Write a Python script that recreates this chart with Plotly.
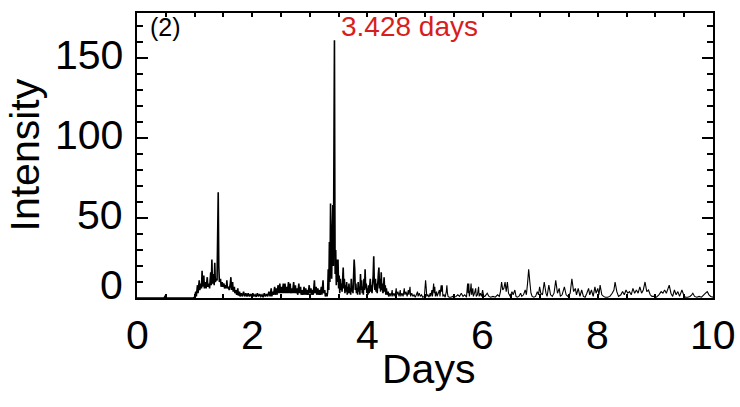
import plotly.graph_objects as go

# ---------------- data ----------------
period_quiet = [0.0, 0.47, 0.49, 0.51, 0.98]
power_quiet = [0, 0, 1.2, 0, 0]

period_a = [1.00, 1.02, 1.03, 1.05, 1.06, 1.08, 1.09, 1.11, 1.12, 1.13, 1.14, 1.16, 1.17, 1.19, 1.20,
            1.22, 1.23, 1.25, 1.26, 1.28, 1.29, 1.30, 1.31, 1.33, 1.34, 1.35, 1.36, 1.38, 1.39, 1.41,
            1.42, 1.43, 1.45, 1.46, 1.48, 1.49, 1.51, 1.52, 1.54, 1.55, 1.56, 1.57, 1.59, 1.60, 1.62,
            1.63, 1.64, 1.66, 1.67, 1.69, 1.70, 1.72, 1.73, 1.75, 1.76, 1.78, 1.79, 1.81, 1.83, 1.85,
            1.87, 1.89]
power_a = [0.5, 4, 1, 8, 3, 11, 5, 9, 6, 17, 7, 14, 6, 10, 6,
           13, 7, 9, 6, 16, 8, 24, 9, 15, 8, 22, 10, 12, 11, 66,
           20, 10, 12, 7, 10, 7, 9, 6, 8, 6, 11, 6, 7, 5, 9,
           13, 5, 10, 4, 7, 3, 5, 2, 6, 1.5, 4, 1, 3, 1, 4,
           1, 3]

period_b = [1.91, 1.93, 1.95, 1.97, 1.99, 2.01, 2.03, 2.05, 2.07, 2.09, 2.11, 2.13, 2.15, 2.17, 2.19,
            2.21, 2.23, 2.25, 2.27, 2.29]
power_b = [1, 3, 1, 2.5, 0.8, 3, 1, 2, 0.8, 3, 1, 2.5, 1, 2, 0.5,
           3, 1, 2.5, 1, 4]

period_c = [2.31, 2.33, 2.34, 2.36, 2.37, 2.39, 2.40, 2.42, 2.43, 2.45, 2.46, 2.48, 2.49, 2.51, 2.52,
            2.54, 2.55, 2.57, 2.58, 2.60, 2.61, 2.63, 2.64, 2.66, 2.67, 2.69, 2.70, 2.72, 2.73, 2.75,
            2.76, 2.78, 2.79, 2.81, 2.82, 2.84, 2.85, 2.87, 2.88, 2.90, 2.91, 2.93, 2.94, 2.96, 2.97,
            2.99, 3.00, 3.02, 3.03, 3.05, 3.06, 3.08, 3.09, 3.11, 3.12, 3.14, 3.15, 3.17, 3.18, 3.20,
            3.21, 3.23, 3.24, 3.26, 3.27, 3.29, 3.30]
power_c = [1, 6, 1, 4, 2, 7, 2, 6, 2, 8, 3, 9, 3, 7, 3,
           9, 3, 9, 3, 7, 3, 10, 3, 9, 3, 6, 3, 10, 3, 8,
           3, 6, 2, 9, 3, 7, 2, 5, 2, 7, 2, 6, 2, 5, 2,
           8, 3, 6, 2, 5, 2, 11, 3, 7, 2, 6, 2, 5, 2, 7,
           2, 11, 3, 5, 1, 3, 1]

period_d = [3.31, 3.32, 3.33, 3.34, 3.35, 3.36, 3.37, 3.38, 3.39, 3.40, 3.41, 3.42, 3.428, 3.435, 3.44,
            3.45, 3.46, 3.47, 3.48, 3.49, 3.50, 3.51, 3.52, 3.53, 3.54, 3.55, 3.56, 3.58, 3.59, 3.60,
            3.61, 3.62, 3.63, 3.64, 3.65, 3.66, 3.67, 3.68, 3.69, 3.70, 3.71, 3.72, 3.73, 3.74, 3.75,
            3.77, 3.78, 3.79, 3.80, 3.81, 3.82, 3.83, 3.84, 3.85, 3.86, 3.87, 3.88, 3.89, 3.90, 3.91,
            3.92, 3.93, 3.94, 3.95, 3.96, 3.97, 3.98, 3.99, 4.00, 4.01, 4.02, 4.03, 4.05, 4.06, 4.07,
            4.08, 4.10, 4.11, 4.12, 4.13, 4.14, 4.15, 4.16, 4.17, 4.19, 4.20, 4.21, 4.22, 4.23, 4.24,
            4.25, 4.26, 4.27, 4.28, 4.29, 4.30, 4.31, 4.32, 4.33, 4.34, 4.36, 4.37, 4.39]
power_d = [4, 18, 5, 35, 10, 59, 30, 12, 40, 58, 20, 100, 161, 60, 15,
           30, 8, 24, 10, 24, 6, 14, 3, 12, 5, 9, 4, 19, 6, 12,
           3, 8, 4, 10, 2, 7, 3, 9, 3, 6, 2, 12, 4, 6, 3,
           24, 18, 5, 9, 3, 6, 2, 10, 4, 7, 2, 15, 5, 11, 3,
           7, 2, 12, 5, 18, 6, 9, 3, 6, 2, 8, 3, 12, 4, 8,
           3, 14, 26, 10, 5, 12, 4, 9, 3, 15, 19, 6, 12, 4, 16,
           5, 9, 3, 7, 13, 4, 8, 2, 6, 2, 4, 1, 3]

period_e = [4.41, 4.43, 4.44, 4.46, 4.48, 4.50, 4.51, 4.53, 4.55, 4.57, 4.58, 4.60, 4.62, 4.64, 4.65,
            4.67, 4.69, 4.71, 4.72, 4.74, 4.75, 4.77, 4.79, 4.81, 4.83, 4.85, 4.87, 4.88, 4.90, 4.92,
            4.94, 4.96, 4.99, 5.01, 5.02, 5.03, 5.05, 5.07, 5.09, 5.10, 5.12, 5.13, 5.15, 5.16, 5.17,
            5.18, 5.20, 5.21, 5.23, 5.25, 5.26, 5.28, 5.29, 5.30, 5.31, 5.33, 5.35, 5.37, 5.38, 5.39,
            5.40, 5.42, 5.45, 5.48, 5.51, 5.54, 5.57, 5.60, 5.63, 5.66, 5.69, 5.72, 5.74, 5.75, 5.76,
            5.77, 5.79, 5.80, 5.81, 5.83, 5.84, 5.86, 5.88, 5.89, 5.91, 5.93, 5.94, 5.96, 5.98, 6.00,
            6.02]
power_e = [1, 5, 1, 3, 1, 6, 2, 4, 1, 5, 1, 3, 1, 6, 2,
           4, 1, 5, 2, 7, 1, 3, 1, 2, 0.5, 2, 4, 1, 3, 1,
           2, 0.5, 1, 11, 7, 1, 2, 0.5, 3, 1, 5, 1, 9, 3, 7,
           1, 4, 1, 3, 5, 1, 8, 4, 8, 1, 2, 0.5, 4, 8, 3,
           1, 0.5, 0.5, 1, 0.5, 1, 2, 1, 3, 1, 2, 0.5, 9, 3, 9,
           1, 5, 9, 2, 6, 1, 3, 6, 1, 2, 7, 1, 3, 1, 5,
           1]

period_f = [6.04, 6.08, 6.11, 6.14, 6.18, 6.22, 6.26, 6.29, 6.31, 6.33, 6.35, 6.37, 6.39, 6.41, 6.43,
            6.45, 6.48, 6.51, 6.53, 6.56, 6.58, 6.60, 6.63, 6.66, 6.68, 6.71, 6.74, 6.76, 6.78, 6.80,
            6.82, 6.84, 6.86, 6.89, 6.92, 6.95, 6.97, 6.99, 7.01, 7.04, 7.07, 7.10, 7.12, 7.15, 7.18,
            7.21, 7.24, 7.27, 7.30, 7.33, 7.35, 7.38, 7.42, 7.45, 7.48, 7.52, 7.55, 7.58, 7.61, 7.63,
            7.66, 7.69, 7.72, 7.75, 7.78, 7.81, 7.84, 7.86, 7.89, 7.92, 7.95, 7.97, 8.00, 8.02, 8.04,
            8.07, 8.10, 8.13, 8.17, 8.21, 8.25, 8.28, 8.30, 8.33, 8.36, 8.40, 8.43, 8.46, 8.49, 8.52,
            8.55, 8.58, 8.61, 8.64, 8.67, 8.70, 8.73, 8.76, 8.79, 8.82, 8.85, 8.88, 8.91, 8.94, 8.98,
            9.02, 9.06, 9.10, 9.13, 9.16, 9.19, 9.22, 9.24, 9.27, 9.30, 9.33, 9.36, 9.39, 9.42, 9.46,
            9.49, 9.52, 9.56, 9.60, 9.63, 9.65, 9.68, 9.72, 9.76, 9.80, 9.84, 9.87, 9.90, 9.93, 9.96,
            10.0]
power_f = [1, 3, 1, 0.5, 1, 0.5, 2, 1, 4, 10, 5, 6, 10, 4, 10,
           3, 1, 4, 2, 5, 1, 0.5, 1, 3, 1, 2, 5, 2, 9, 18,
           10, 3, 1, 0.5, 1, 4, 2, 7, 3, 2, 10, 3, 1, 8, 2,
           1, 3, 11, 3, 6, 1, 2, 7, 2, 1, 3, 12, 4, 6, 2,
           6, 1, 5, 1, 0.5, 3, 6, 2, 5, 1, 7, 3, 6, 2, 8,
           2, 1, 0.5, 0.5, 1, 3, 5, 10, 4, 1, 2, 4, 2, 5, 3,
           4, 2, 6, 3, 5, 3, 7, 3, 5, 10, 4, 5, 2, 1, 1,
           0.5, 2, 4, 3, 5, 3, 6, 8, 3, 1, 5, 2, 4, 1, 5,
           2, 0.5, 0.5, 1, 2, 3, 1, 0.5, 1, 0.5, 2, 3, 4, 2, 1,
           0.5]

ytick_vals = [0, 50, 100, 150]
xtick_vals = [0, 2, 4, 6, 8, 10]
peak_label = "3.428 days"
panel_label = "(2)"

# dense (short-period) part and sparse (long-period) part of the same curve
periods_dense = period_quiet + period_a + period_b + period_c + period_d
powers_dense = power_quiet + power_a + power_b + power_c + power_d
periods_sparse = period_d[-1:] + period_e + period_f
powers_sparse = power_d[-1:] + power_e + power_f

FONT = "Liberation Sans, Arial, Helvetica, sans-serif"

fig = go.Figure()
fig.add_trace(go.Scatter(x=periods_dense, y=powers_dense, mode="lines",
                         line=dict(color="black", width=1.6, simplify=False),
                         hoverinfo="skip", showlegend=False))
fig.add_trace(go.Scatter(x=periods_sparse, y=powers_sparse, mode="lines",
                         line=dict(color="black", width=1.1, simplify=False),
                         hoverinfo="skip", showlegend=False))

W, H = 740, 407
L, R, T, B = 137, 27, 13, 109

fig.update_layout(
    width=W, height=H,
    margin=dict(l=L, r=R, t=T, b=B, autoexpand=False),
    paper_bgcolor="white", plot_bgcolor="white",
    font=dict(family=FONT, color="black"),
    showlegend=False,
)
fig.update_xaxes(
    range=[0, 10], showgrid=False, zeroline=False,
    showline=True, linecolor="black", linewidth=2, mirror="ticks",
    ticks="inside", ticklen=4, tickwidth=1.5, tickcolor="black",
    tickvals=xtick_vals, showticklabels=False,
    minor=dict(dtick=0.5, tick0=0, ticks="inside", ticklen=4, tickwidth=1.5, tickcolor="black", showgrid=False),
)
fig.update_yaxes(
    range=[0, 178], showgrid=False, zeroline=False,
    showline=True, linecolor="black", linewidth=2, mirror="ticks",
    ticks="inside", ticklen=11, tickwidth=2, tickcolor="black",
    tickvals=ytick_vals, showticklabels=False,
    minor=dict(dtick=10, tick0=0, ticks="inside", ticklen=6, tickwidth=1.5, tickcolor="black", showgrid=False),
)

big = dict(size=41, family=FONT, color="black")

for v in ytick_vals:
    fig.add_annotation(x=0, xref="paper", y=v, yref="y", text=str(v), showarrow=False,
                       xanchor="right", yanchor="middle", xshift=-12, yshift=(13 if v == 0 else 3),
                       font=big)

for v in xtick_vals:
    fig.add_annotation(x=v, xref="x", y=0, yref="paper", text=str(v), showarrow=False,
                       xanchor="center", yanchor="middle", yshift=-37, font=big)

fig.add_annotation(x=0.5, xref="paper", y=0, yref="paper", text="Days", showarrow=False,
                   xanchor="center", yanchor="middle", xshift=3, yshift=-71, font=big)

fig.add_annotation(x=0, xref="paper", y=0.5, yref="paper", text="Intensity", showarrow=False,
                   textangle=-90, xanchor="center", yanchor="middle", xshift=-113,
                   font=big)

fig.add_annotation(x=0, xref="paper", y=1, yref="paper", text=panel_label, showarrow=False,
                   xanchor="left", yanchor="top", xshift=11, yshift=2,
                   font=dict(size=25, family=FONT, color="black"))

fig.add_annotation(x=3.428, xref="x", y=1, yref="paper", text=peak_label, showarrow=False,
                   xanchor="left", yanchor="top", xshift=5, yshift=4,
                   font=dict(size=28, family=FONT, color="rgb(215,30,30)"))

fig.write_html("out.html")
